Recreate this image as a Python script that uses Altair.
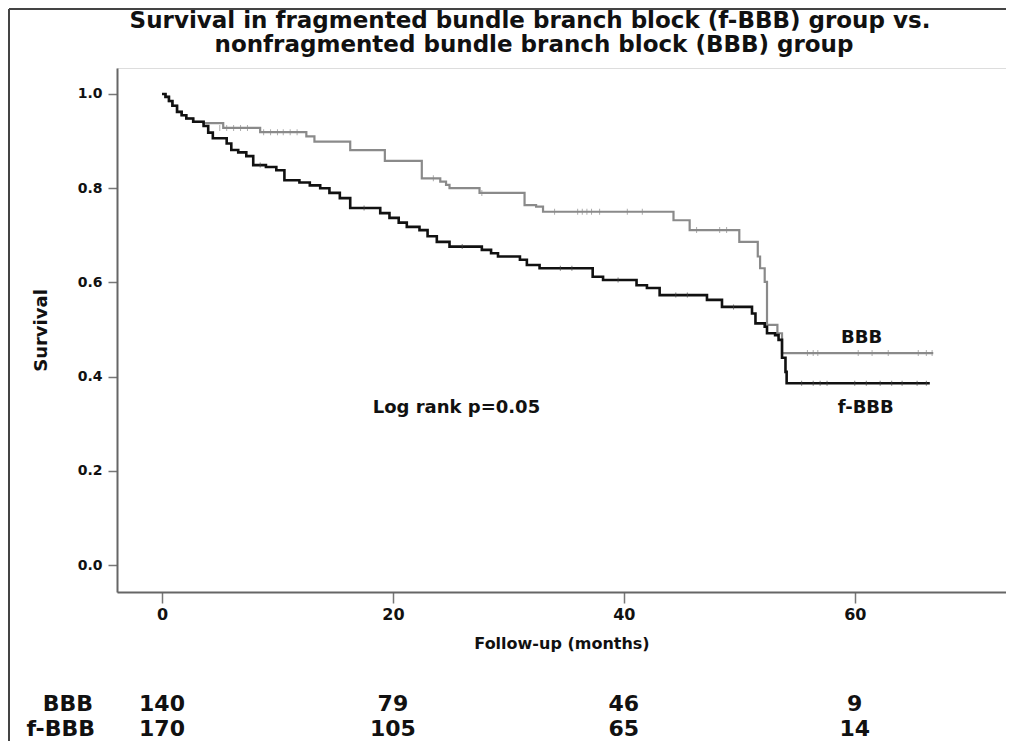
import altair as alt
import pandas as pd

# ---------------- data ----------------
title_lines = ["Survival in fragmented  bundle branch block (f-BBB)  group vs.",
               "nonfragmented bundle branch block (BBB) group"]

# f-BBB (black) Kaplan-Meier steps
black_t = [0.0, 0.3, 0.6, 0.9, 1.3, 1.7, 2.1, 2.7, 3.6, 4.0, 4.4, 5.6, 6.0, 6.6, 7.3,
           7.9, 9.0, 9.9, 10.6, 11.9, 12.8, 13.7, 14.5, 15.4, 16.3, 18.9, 19.7, 20.5,
           21.2, 22.3, 23.0, 23.8, 24.9, 27.7, 28.5, 29.1, 31.0, 31.6, 32.7, 37.3, 38.2,
           41.1, 42.0, 43.1, 47.2, 48.5, 51.1, 51.4, 52.2, 52.4, 53.1, 53.4, 53.7, 54.0,
           54.1, 66.5]
black_s = [1.0, 0.994, 0.985, 0.975, 0.962, 0.955, 0.948, 0.941, 0.932, 0.918, 0.906,
           0.895, 0.881, 0.876, 0.868, 0.849, 0.845, 0.838, 0.817, 0.812, 0.806, 0.800,
           0.790, 0.779, 0.758, 0.747, 0.737, 0.727, 0.718, 0.711, 0.698, 0.686, 0.676,
           0.669, 0.662, 0.655, 0.648, 0.637, 0.630, 0.612, 0.605, 0.594, 0.588, 0.573,
           0.563, 0.548, 0.534, 0.513, 0.506, 0.492, 0.488, 0.478, 0.440, 0.410, 0.386,
           0.386]

# BBB (gray) Kaplan-Meier steps
gray_t = [0.0, 0.3, 0.6, 0.9, 1.3, 1.7, 2.1, 2.7, 3.6, 5.3, 8.5, 12.5, 13.2, 16.3, 19.3,
          22.5, 24.1, 24.6, 24.9, 27.5, 31.4, 32.4, 33.0, 44.3, 45.7, 50.0, 51.6, 51.8,
          52.2, 52.4, 53.3, 53.7, 66.8]
gray_s = [1.0, 0.994, 0.985, 0.975, 0.962, 0.955, 0.948, 0.941, 0.938, 0.928, 0.919,
          0.910, 0.899, 0.881, 0.858, 0.821, 0.814, 0.807, 0.800, 0.790, 0.764, 0.761,
          0.750, 0.732, 0.711, 0.686, 0.655, 0.630, 0.601, 0.510, 0.492, 0.450, 0.450]

# censor marks
gray_cens_t = [5.0, 5.6, 6.2, 6.8, 7.4, 8.8, 9.4, 10.0, 10.5, 11.1, 11.7, 23.5, 27.7,
               34.0, 36.0, 36.4, 36.8, 37.2, 37.9, 40.3, 41.6, 46.3, 48.3, 48.9,
               55.9, 56.4, 56.8, 60.3, 61.5, 62.9, 65.5, 66.2, 66.7]
gray_cens_s = [0.928, 0.928, 0.928, 0.928, 0.928, 0.919, 0.919, 0.919, 0.919, 0.919,
               0.919, 0.821, 0.790, 0.750, 0.750, 0.750, 0.750, 0.750, 0.750, 0.750,
               0.750, 0.711, 0.711, 0.711, 0.450, 0.450, 0.450, 0.450, 0.450, 0.450,
               0.450, 0.450, 0.450]
black_cens_t = [8.5, 17.5, 26.0, 34.5, 35.5, 39.5, 44.5, 45.5, 49.5,
                55.4, 56.4, 57.0, 57.6, 60.0, 61.0, 62.2, 63.2, 64.1, 65.4, 66.2]
black_cens_s = [0.849, 0.758, 0.676, 0.630, 0.630, 0.605, 0.573, 0.573, 0.548,
                0.386, 0.386, 0.386, 0.386, 0.386, 0.386, 0.386, 0.386, 0.386, 0.386, 0.386]

# numbers at risk
risk_times = [0, 20, 40, 60]
risk_bbb = [140, 79, 46, 9]
risk_fbbb = [170, 105, 65, 14]

x_ticks = [0, 20, 40, 60]
y_ticks = [0.0, 0.2, 0.4, 0.6, 0.8, 1.0]

# annotations: (text, time, survival)
ann_text = ["Log rank p=0.05", "BBB", "f-BBB"]
ann_t = [25.5, 60.6, 60.95]
ann_s = [0.333, 0.482, 0.333]

# ---------------- chart ----------------
FONT = "DejaVu Sans"
W, H = 889, 524

black_df = pd.DataFrame({"t": black_t, "s": black_s})
gray_df = pd.DataFrame({"t": gray_t, "s": gray_s})
gcens_df = pd.DataFrame({"t": gray_cens_t, "s": gray_cens_s})
bcens_df = pd.DataFrame({"t": black_cens_t, "s": black_cens_s})
ann_df = pd.DataFrame({"label": ann_text, "t": ann_t, "s": ann_s})
risk_b_df = pd.DataFrame({"t": risk_times, "n": [str(v) for v in risk_bbb]})
risk_f_df = pd.DataFrame({"t": risk_times, "n": [str(v) for v in risk_fbbb]})
one_df = pd.DataFrame({"k": [0]})

xscale = alt.Scale(domain=[-3.9, 73.1], nice=False, zero=False)
yscale = alt.Scale(domain=[-0.0573, 1.0552], nice=False, zero=False)

xaxis = alt.Axis(values=x_ticks, title="Follow-up (months)", grid=False,
                 labelFont=FONT, labelFontWeight="bold", labelFontSize=16,
                 labelColor="#111", labelPadding=3, tickSize=11, tickColor="#777",
                 tickWidth=1.5, domainColor="#666", domainWidth=2,
                 titleFont=FONT, titleFontWeight="bold", titleFontSize=16,
                 titleColor="#111", titlePadding=13)
yaxis = alt.Axis(values=y_ticks, format=".1f", title="Survival", grid=False,
                 labelFont=FONT, labelFontWeight="bold", labelFontSize=14,
                 labelColor="#111", labelPadding=6, tickSize=9, tickColor="#777",
                 tickWidth=1.5, domainColor="#666", domainWidth=2,
                 titleFont=FONT, titleFontWeight="bold", titleFontSize=18,
                 titleColor="#111", titlePadding=27)

x_enc = alt.X("t:Q", scale=xscale, axis=xaxis)
y_enc = alt.Y("s:Q", scale=yscale, axis=yaxis)

gray_line = alt.Chart(gray_df).mark_line(interpolate="step-after", color="#8a8a8a",
                                         strokeWidth=2.2).encode(x=x_enc, y=y_enc)
black_line = alt.Chart(black_df).mark_line(interpolate="step-after", color="#111111",
                                           strokeWidth=2.6).encode(x="t:Q", y="s:Q")
gray_c = alt.Chart(gcens_df).mark_tick(orient="vertical", color="#8a8a8a", size=6,
                                       thickness=1).encode(x="t:Q", y="s:Q")
black_c = alt.Chart(bcens_df).mark_tick(orient="vertical", color="#444", size=5,
                                        thickness=1).encode(x="t:Q", y="s:Q")

ann = alt.Chart(ann_df).mark_text(font=FONT, fontWeight="bold", fontSize=18,
                                  color="#111", align="center",
                                  baseline="middle").encode(x="t:Q", y="s:Q",
                                                            text="label:N")

title1 = alt.Chart(one_df).mark_text(font=FONT, fontWeight="bold", fontSize=23,
                                     color="#111", align="center", baseline="middle",
                                     text=title_lines[0]).encode(
    x=alt.value(413), y=alt.value(-47))
title2 = alt.Chart(one_df).mark_text(font=FONT, fontWeight="bold", fontSize=23,
                                     color="#111", align="center", baseline="middle",
                                     text=title_lines[1]).encode(
    x=alt.value(417), y=alt.value(-23))

RY1, RY2 = 636, 661
risk_b = alt.Chart(risk_b_df).mark_text(font=FONT, fontWeight="bold", fontSize=22,
                                        color="#111", align="center",
                                        baseline="middle").encode(
    x="t:Q", y=alt.value(RY1), text="n:N")
risk_f = alt.Chart(risk_f_df).mark_text(font=FONT, fontWeight="bold", fontSize=22,
                                        color="#111", align="center",
                                        baseline="middle").encode(
    x="t:Q", y=alt.value(RY2), text="n:N")
lab_b = alt.Chart(one_df).mark_text(font=FONT, fontWeight="bold", fontSize=22,
                                    color="#111", align="right", baseline="middle",
                                    text="BBB").encode(
    x=alt.value(-24), y=alt.value(RY1))
lab_f = alt.Chart(one_df).mark_text(font=FONT, fontWeight="bold", fontSize=22,
                                    color="#111", align="right", baseline="middle",
                                    text="f-BBB").encode(
    x=alt.value(-22), y=alt.value(RY2))

border_left = alt.Chart(one_df).mark_rule(color="#444", strokeWidth=2).encode(
    x=alt.value(-108), y=alt.value(-59), y2=alt.value(680))
border_top = alt.Chart(one_df).mark_rule(color="#444", strokeWidth=2).encode(
    x=alt.value(-108), x2=alt.value(W + 10), y=alt.value(-59))

chart = alt.layer(
    gray_line, gray_c, black_line, black_c, ann, title1, title2,
    risk_b, risk_f, lab_b, lab_f, border_left, border_top
).properties(
    width=W, height=H,
    autosize=alt.AutoSizeParams(type="none"),
    padding={"left": 109, "top": 60, "right": 0, "bottom": 149},
).configure_view(stroke=None).configure(background="white")

chart.save("out.html", embed_options={"renderer": "svg", "actions": False})
